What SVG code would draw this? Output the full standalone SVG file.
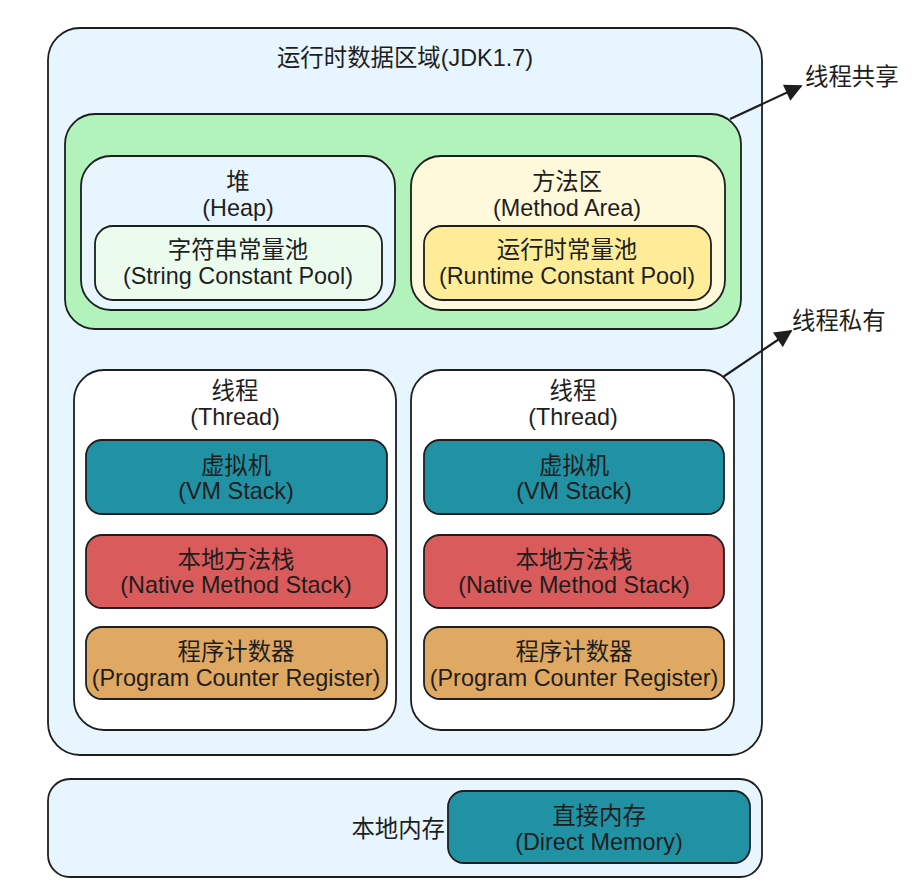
<svg xmlns="http://www.w3.org/2000/svg" width="912" height="894" viewBox="0 0 912 894">
<defs>
<style>
.b{stroke:#1e1e1e;stroke-width:1.8}
.t{font-family:"Liberation Sans","Noto Sans CJK SC",sans-serif;font-size:23.4px;fill:#1e1e1e;text-anchor:middle;dominant-baseline:central}
.ti{font-size:23.4px}
.c{stroke:#1e1e1e;stroke-width:2.2;fill:none}
</style>
<marker id="ah" viewBox="0 0 10 10" refX="9" refY="5" markerWidth="9" markerHeight="8" orient="auto" markerUnits="strokeWidth">
<path d="M0,0 L10,5 L0,10 z" fill="#1e1e1e"/>
</marker>
</defs>
<rect width="912" height="894" fill="#ffffff"/>

<g id="runtime">
<rect class="b" x="48" y="28" width="714" height="727" rx="32" fill="#e7f5ff"/>
<text class="t ti" x="405" y="58">运行时数据区域(JDK1.7)</text>
</g>

<g id="shared">
<rect class="b" x="65" y="114" width="676" height="215" rx="30" fill="#b2f2bb"/>
</g>

<g id="heap">
<rect class="b" x="81" y="156" width="314" height="154" rx="30" fill="#e7f5ff"/>
<text class="t" x="238" y="182">堆</text>
<text class="t" x="238" y="208">(Heap)</text>
</g>
<g id="stringpool">
<rect class="b" x="95" y="226" width="287" height="74" rx="18" fill="#ebfbee"/>
<text class="t" x="238" y="250">字符串常量池</text>
<text class="t" x="238" y="276">(String Constant Pool)</text>
</g>

<g id="method">
<rect class="b" x="411" y="156" width="314" height="154" rx="30" fill="#fff9db"/>
<text class="t" x="567" y="182">方法区</text>
<text class="t" x="567" y="208">(Method Area)</text>
</g>
<g id="runtimepool">
<rect class="b" x="424" y="226" width="287" height="74" rx="18" fill="#ffec99"/>
<text class="t" x="567" y="250">运行时常量池</text>
<text class="t" x="567" y="276">(Runtime Constant Pool)</text>
</g>

<g id="thread1">
<rect class="b" x="74" y="370" width="322" height="360" rx="30" fill="#ffffff"/>
<text class="t" x="235" y="391">线程</text>
<text class="t" x="235" y="417">(Thread)</text>
</g>
<g id="vm1">
<rect class="b" x="86" y="440" width="301" height="74" rx="16" fill="#2191a4"/>
<text class="t" x="236" y="466">虚拟机</text>
<text class="t" x="236" y="491">(VM Stack)</text>
</g>
<g id="native1">
<rect class="b" x="86" y="535" width="301" height="73" rx="16" fill="#da5b5b"/>
<text class="t" x="236" y="560">本地方法栈</text>
<text class="t" x="236" y="585">(Native Method Stack)</text>
</g>
<g id="pc1">
<rect class="b" x="86" y="627" width="301" height="72" rx="16" fill="#e0a963"/>
<text class="t" x="236" y="652">程序计数器</text>
<text class="t" x="236" y="678">(Program Counter Register)</text>
</g>

<g id="thread2">
<rect class="b" x="411" y="370" width="323" height="360" rx="30" fill="#ffffff"/>
<text class="t" x="573" y="391">线程</text>
<text class="t" x="573" y="417">(Thread)</text>
</g>
<g id="vm2">
<rect class="b" x="424" y="440" width="300" height="74" rx="16" fill="#2191a4"/>
<text class="t" x="574" y="466">虚拟机</text>
<text class="t" x="574" y="491">(VM Stack)</text>
</g>
<g id="native2">
<rect class="b" x="424" y="535" width="300" height="73" rx="16" fill="#da5b5b"/>
<text class="t" x="574" y="560">本地方法栈</text>
<text class="t" x="574" y="585">(Native Method Stack)</text>
</g>
<g id="pc2">
<rect class="b" x="424" y="627" width="300" height="72" rx="16" fill="#e0a963"/>
<text class="t" x="574" y="652">程序计数器</text>
<text class="t" x="574" y="678">(Program Counter Register)</text>
</g>

<g id="nativemem">
<rect class="b" x="48" y="779" width="714" height="98" rx="22" fill="#e7f5ff"/>
<text class="t" x="445" y="829" style="text-anchor:end">本地内存</text>
</g>
<g id="direct">
<rect class="b" x="448" y="791" width="302" height="72" rx="16" fill="#2191a4"/>
<text class="t" x="599" y="816">直接内存</text>
<text class="t" x="599" y="842">(Direct Memory)</text>
</g>

<g id="label-shared">
<text class="t" x="805" y="77" style="text-anchor:start">线程共享</text>
</g>
<g id="label-private">
<text class="t" x="792" y="321" style="text-anchor:start">线程私有</text>
</g>

<g id="connectors">
<line class="c" x1="730" y1="119" x2="801" y2="86" marker-end="url(#ah)"/>
<line class="c" x1="723" y1="377" x2="791" y2="331" marker-end="url(#ah)"/>
</g>
</svg>
